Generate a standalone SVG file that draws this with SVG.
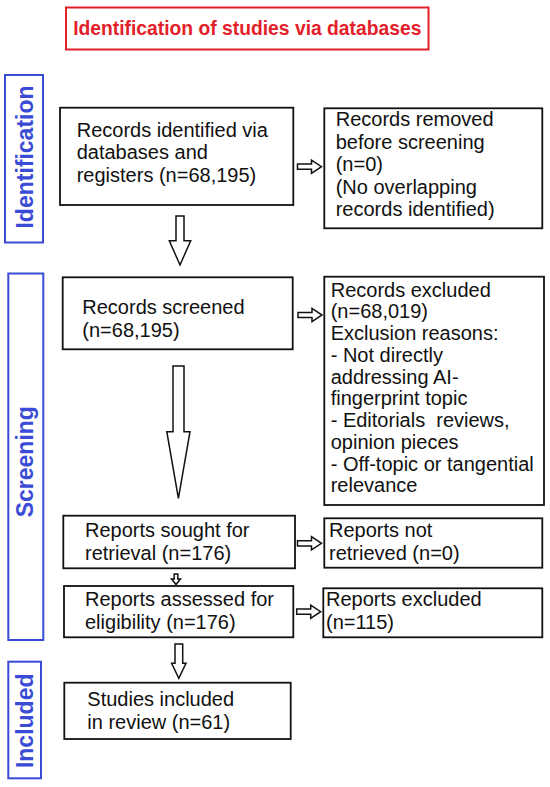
<svg xmlns="http://www.w3.org/2000/svg" width="550" height="787" viewBox="0 0 550 787">
<style>
.box{fill:#fff;stroke:#111;stroke-width:1.8}
.side{fill:#fff;stroke:#3a4cd6;stroke-width:2}
.txt{font-family:"Liberation Sans",Arial,sans-serif;font-size:20px;fill:#111}
.lab{font-family:"Liberation Sans",Arial,sans-serif;font-size:23px;font-weight:bold;fill:#3a4cd6;text-anchor:middle}
.arr{fill:#fff;stroke:#111;stroke-width:1.5;stroke-linejoin:miter}
</style>
<defs>
<path id="arrowR" d="M0,-2.6 H14 V-6.6 L24,0 L14,6.6 V2.6 H0 Z"/>
</defs>
<rect width="550" height="787" fill="#fff"/>
<g id="title">
<rect x="66" y="7.5" width="362.5" height="42" fill="#fff" stroke="#e3202a" stroke-width="2"/>
<text x="247.3" y="35" font-family="Liberation Sans,Arial,sans-serif" font-size="19.3" font-weight="bold" fill="#e3202a" text-anchor="middle">Identification of studies via databases</text>
</g>
<g id="label-identification">
<rect class="side" x="5" y="75" width="38" height="167.5"/>
<text class="lab" transform="translate(33,157) rotate(-90)">Identification</text>
</g>
<g id="label-screening">
<rect class="side" x="8.3" y="273.5" width="35" height="366.5"/>
<text class="lab" transform="translate(33,461.7) rotate(-90)">Screening</text>
</g>
<g id="label-included">
<rect class="side" x="8.3" y="661.7" width="32.7" height="116.6"/>
<text class="lab" transform="translate(32.5,720.8) rotate(-90)">Included</text>
</g>
<g id="node-identified">
<rect class="box" x="60" y="107.7" width="233.3" height="97.3"/>
<text class="txt" x="76.7" y="136.5">Records identified via</text>
<text class="txt" x="76.7" y="159">databases and</text>
<text class="txt" x="76.7" y="181.5">registers (n=68,195)</text>
</g>
<g id="node-removed">
<rect class="box" x="324.3" y="108.3" width="218" height="120"/>
<text class="txt" x="335.7" y="126">Records removed</text>
<text class="txt" x="335.7" y="148.5">before screening</text>
<text class="txt" x="335.7" y="171">(n=0)</text>
<text class="txt" x="335.7" y="193.5">(No overlapping</text>
<text class="txt" x="335.7" y="216">records identified)</text>
</g>
<g id="node-screened">
<rect class="box" x="62.7" y="277.3" width="230" height="72"/>
<text class="txt" x="82.3" y="314">Records screened</text>
<text class="txt" x="82.3" y="336.5">(n=68,195)</text>
</g>
<g id="node-excluded">
<rect class="box" x="324.3" y="276.7" width="219.7" height="228.3"/>
<text class="txt" x="330.7" y="296.5">Records excluded</text>
<text class="txt" x="330.7" y="318.25">(n=68,019)</text>
<text class="txt" x="330.7" y="340">Exclusion reasons:</text>
<text class="txt" x="330.7" y="361.75">- Not directly</text>
<text class="txt" x="330.7" y="383.5">addressing AI-</text>
<text class="txt" x="330.7" y="405.25">fingerprint topic</text>
<text class="txt" x="330.7" y="427" xml:space="preserve">- Editorials  reviews,</text>
<text class="txt" x="330.7" y="448.75">opinion pieces</text>
<text class="txt" x="330.7" y="470.5">- Off-topic or tangential</text>
<text class="txt" x="330.7" y="492.25">relevance</text>
</g>
<g id="node-sought">
<rect class="box" x="63.3" y="515.7" width="231.7" height="52.6"/>
<text class="txt" x="85" y="536.5">Reports sought for</text>
<text class="txt" x="85" y="559.5">retrieval (n=176)</text>
</g>
<g id="node-notretrieved">
<rect class="box" x="324.3" y="518.3" width="218" height="49.4"/>
<text class="txt" x="329" y="536.5">Reports not</text>
<text class="txt" x="329" y="560">retrieved (n=0)</text>
</g>
<g id="node-assessed">
<rect class="box" x="64" y="586" width="229.3" height="51.3"/>
<text class="txt" x="85" y="606">Reports assessed for</text>
<text class="txt" x="85" y="628.5">eligibility (n=176)</text>
</g>
<g id="node-reportsexcluded">
<rect class="box" x="323.3" y="588.3" width="219" height="49"/>
<text class="txt" x="326" y="606">Reports excluded</text>
<text class="txt" x="326" y="628.5">(n=115)</text>
</g>
<g id="node-included">
<rect class="box" x="64.3" y="682.7" width="226.4" height="56.3"/>
<text class="txt" x="87.3" y="706">Studies included</text>
<text class="txt" x="87.3" y="729">in review (n=61)</text>
</g>
<g id="connectors">
<use href="#arrowR" class="arr" transform="translate(297.5,166.7)"/>
<use href="#arrowR" class="arr" transform="translate(298,315)"/>
<use href="#arrowR" class="arr" transform="translate(297.5,543.3)"/>
<use href="#arrowR" class="arr" transform="translate(296.7,611.7)"/>
<path class="arr" d="M176,216 H184 V240.7 H190.7 L180,265 L169.3,240.7 H176 Z"/>
<path class="arr" d="M173,366 H184 V431.7 H190 L178.4,498.3 L166.8,431.7 H173 Z"/>
<path class="arr" d="M174.2,574 H177.8 V579 H180.5 L176,584.5 L171.5,579 H174.2 Z"/>
<path class="arr" d="M175,644 H182.7 V663.3 H186 L178.8,678.3 L171.6,663.3 H175 Z"/>
</g>
</svg>
